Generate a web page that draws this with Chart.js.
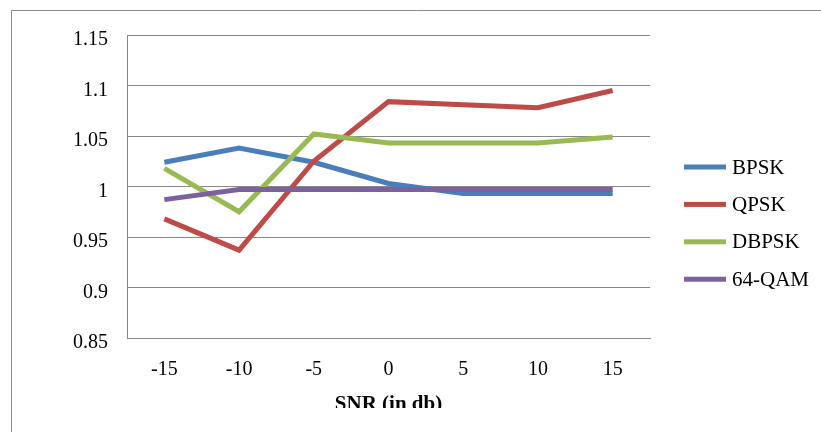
<!DOCTYPE html>
<html>
<head>
<meta charset="utf-8">
<script src="https://cdn.jsdelivr.net/npm/chart.js@4/dist/chart.umd.min.js"></script>
<style>
    html, body { margin: 0; padding: 0; background: #ffffff; }
    #wrap { width: 821px; height: 432px; }
</style>
</head>
<body>
<div id="wrap"><canvas id="chart-snr" width="821" height="432"></canvas></div>
<script>
// dados
const snrLabels = ['-15', '-10', '-5', '0', '5', '10', '15'];
const bpsk = [1.024, 1.038, 1.024, 1.003, 0.993, 0.993, 0.993];
const qpsk = [0.968, 0.937, 1.025, 1.084, 1.081, 1.078, 1.095];
const dbpsk = [1.018, 0.975, 1.052, 1.043, 1.043, 1.043, 1.049];
const qam64 = [0.987, 0.997, 0.997, 0.997, 0.997, 0.997, 0.997];
const seriesNames = ['BPSK', 'QPSK', 'DBPSK', '64-QAM'];
const seriesColors = ['#4A7EBB', '#BE4B48', '#98B954', '#7D60A0'];

const FONT = "'Liberation Serif', 'Times New Roman', serif";
const GRID = '#878787';

// moldura externa + legenda manual
const frameLegend = {
    id: 'frameLegend',
    beforeDraw: (chart) => {
        const ctx = chart.ctx;
        ctx.save();
        ctx.fillStyle = '#ffffff';
        ctx.fillRect(0, 0, chart.width, chart.height);
        ctx.restore();
    },
    afterDraw: (chart) => {
        const ctx = chart.ctx;
        ctx.save();
        // corte do titulo no rodape (imagem recortada)
        ctx.fillStyle = '#ffffff';
        ctx.fillRect(12, 408, chart.width, chart.height - 408);
        ctx.strokeStyle = '#8c8c8c';
        ctx.lineWidth = 1;
        ctx.beginPath();
        ctx.moveTo(11.5, chart.height);
        ctx.lineTo(11.5, 10.5);
        ctx.lineTo(chart.width, 10.5);
        ctx.stroke();

        ctx.font = '21px ' + FONT;
        ctx.textBaseline = 'middle';
        ctx.textAlign = 'left';
        chart.data.datasets.forEach((ds, i) => {
            const y = 167 + i * 37.4;
            ctx.fillStyle = ds.borderColor;
            ctx.fillRect(684, y - 2.5, 42, 5);
            ctx.fillStyle = '#000000';
            ctx.fillText(ds.label, 732, y + 1);
        });
        ctx.restore();
    }
};

const data = [bpsk, qpsk, dbpsk, qam64];

new Chart(document.getElementById('chart-snr'), {
    type: 'line',
    data: {
        labels: snrLabels,
        datasets: data.map((vals, i) => ({
            label: seriesNames[i],
            data: vals,
            borderColor: seriesColors[i],
            backgroundColor: seriesColors[i],
            borderWidth: 5,
            pointRadius: 0,
            tension: 0,
            fill: false,
            order: 4 - i
        }))
    },
    options: {
        responsive: false,
        animation: false,
        layout: { padding: { top: 35, right: 171, bottom: 0, left: 0 } },
        plugins: {
            legend: { display: false },
            tooltip: { enabled: false }
        },
        scales: {
            x: {
                offset: true,
                grid: { display: false, drawTicks: false },
                border: { display: true, color: GRID, width: 1 },
                ticks: { color: '#000000', font: { family: FONT, size: 20 }, padding: 20, maxRotation: 0 },
                title: {
                    display: true,
                    text: 'SNR (in db)',
                    color: '#000000',
                    font: { family: FONT, size: 21, weight: 'bold' },
                    padding: { top: 0, bottom: 15 }
                },
                afterFit: (scale) => { scale.height = 94; }
            },
            y: {
                min: 0.85,
                max: 1.15,
                grid: { color: GRID, lineWidth: 1, drawTicks: false },
                border: { display: true, color: GRID, width: 1 },
                ticks: {
                    stepSize: 0.05,
                    color: '#000000',
                    font: { family: FONT, size: 20 },
                    padding: 19,
                    labelOffset: 5,
                    callback: (v) => String(Number(v.toFixed(2)))
                },
                afterFit: (scale) => { scale.width = 127; }
            }
        }
    },
    plugins: [frameLegend]
});
</script>
</body>
</html>
